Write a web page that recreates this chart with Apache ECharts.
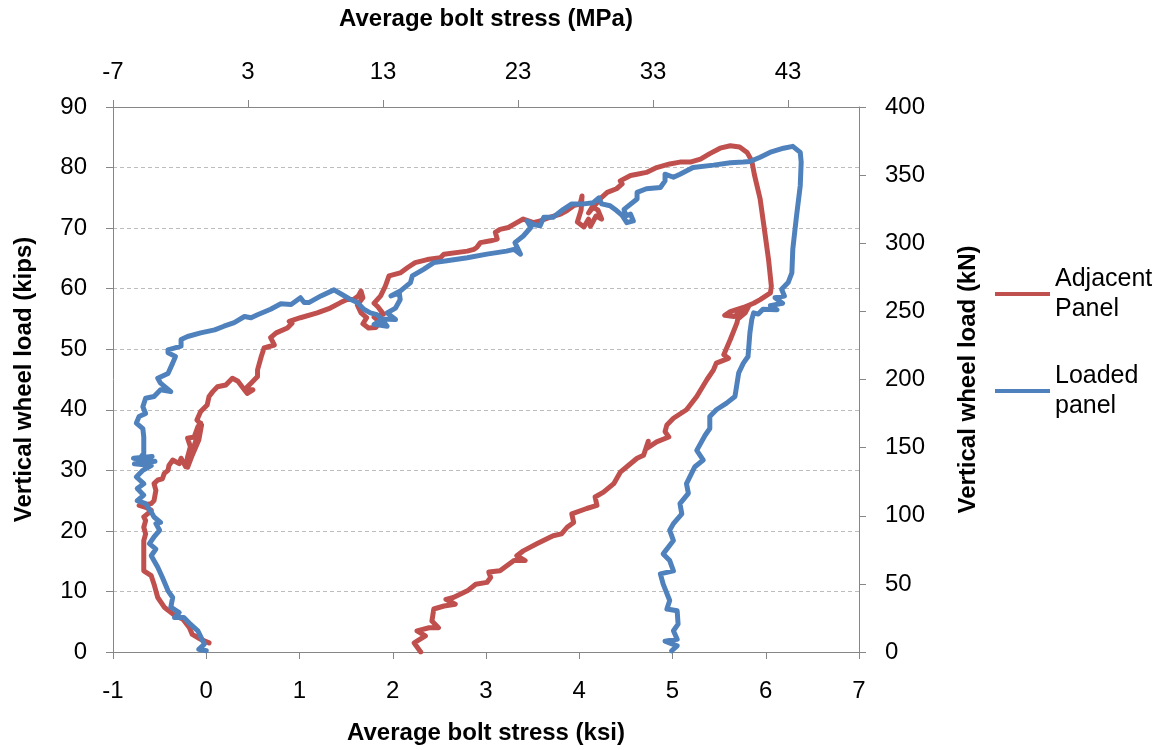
<!DOCTYPE html>
<html>
<head>
<meta charset="utf-8">
<script src="https://cdn.jsdelivr.net/npm/echarts/dist/echarts.min.js"></script>
<style>
  html, body { margin: 0; padding: 0; background: #fff; }
  #chart { width: 1166px; height: 750px; }
</style>
</head>
<body>
<div id="chart"></div>
<script>
// bolt stress (ksi) vs vertical wheel load (kips)
var seriesNames = ['Adjacent Panel', 'Loaded panel'];

var adjacentPanel = [
  [0.03,1.5],[-0.06,2.1],[-0.15,2.9],[-0.18,4.0],[-0.25,5.4],[-0.33,6.0],[-0.36,6.3],[-0.45,7.4],
  [-0.52,9.0],[-0.56,11.2],[-0.59,12.6],[-0.67,13.4],[-0.67,16.7],[-0.67,18.4],[-0.65,19.5],
  [-0.67,20.6],[-0.65,21.7],[-0.67,22.3],[-0.63,22.8],[-0.59,23.4],[-0.65,23.9],[-0.72,24.2],
  [-0.59,24.5],[-0.56,25.0],[-0.54,26.7],[-0.56,27.8],[-0.52,28.4],[-0.47,28.6],[-0.45,29.5],
  [-0.41,30.0],[-0.40,30.8],[-0.36,31.7],[-0.29,31.1],[-0.27,32.0],[-0.22,30.6],[-0.20,32.2],
  [-0.17,33.9],[-0.20,35.3],[-0.13,35.5],[-0.09,37.2],[-0.06,37.8],[-0.12,34.5],[-0.20,30.5],
  [-0.15,32.5],[-0.08,35.0],[-0.05,37.5],[-0.10,38.3],[-0.06,39.7],[0.01,40.8],[0.03,42.2],
  [0.07,43.0],[0.12,43.8],[0.21,44.1],[0.28,45.2],[0.34,44.7],[0.37,44.1],[0.44,42.7],[0.50,43.3],
  [0.41,43.3],[0.48,44.4],[0.55,45.5],[0.55,46.6],[0.59,48.8],[0.62,50.2],[0.73,50.7],[0.69,51.9],
  [0.75,52.7],[0.87,53.5],[0.92,54.3],[0.89,54.6],[1.01,55.2],[1.19,56.0],[1.33,56.8],[1.44,57.7],
  [1.51,58.2],[1.58,58.2],[1.63,58.8],[1.66,59.6],[1.68,58.5],[1.62,57.3],[1.66,56.0],[1.72,55.2],
  [1.68,54.2],[1.74,53.5],[1.82,53.6],[1.86,54.5],[1.80,55.3],[1.90,55.8],[1.84,57.0],[1.80,57.6],
  [1.87,58.8],[1.92,60.4],[1.96,62.1],[2.08,62.6],[2.16,63.5],[2.24,64.3],[2.37,64.8],[2.51,65.1],
  [2.55,65.7],[2.80,66.2],[2.87,66.5],[2.90,66.8],[2.94,67.6],[3.05,67.9],[3.12,68.2],[3.10,69.3],
  [3.15,69.8],[3.24,70.1],[3.33,70.9],[3.40,71.5],[3.51,70.9],[3.58,71.2],[3.69,71.8],[3.80,72.3],
  [3.87,72.9],[3.94,73.7],[4.01,74.0],[4.03,75.3],[4.02,73.0],[3.98,71.0],[4.05,70.2],[4.10,71.5],
  [4.12,70.3],[4.18,72.0],[4.24,71.5],[4.20,73.0],[4.14,73.5],[4.10,72.5],[4.18,74.0],[4.22,74.8],
  [4.30,75.9],[4.40,76.5],[4.46,77.3],[4.44,77.8],[4.55,78.7],[4.62,78.9],[4.72,79.2],[4.83,80.0],
  [4.97,80.6],[5.08,80.9],[5.19,80.9],[5.30,81.4],[5.40,82.3],[5.51,83.2],[5.62,83.6],[5.72,83.4],
  [5.80,82.5],[5.85,81.1],[5.88,78.7],[5.94,74.8],[5.99,69.3],[6.03,64.8],[6.06,60.4],[6.05,59.3],
  [5.94,58.2],[5.87,57.6],[5.76,56.9],[5.62,56.2],[5.56,55.6],[5.66,55.4],[5.74,56.2],[5.82,57.2],
  [5.78,56.0],[5.70,55.0],[5.69,54.3],[5.62,51.6],[5.55,49.1],[5.60,48.5],[5.47,47.7],[5.44,46.6],
  [5.37,45.0],[5.26,42.2],[5.15,40.0],[5.01,38.6],[4.94,37.5],[4.92,36.4],[4.96,35.5],[4.83,34.7],
  [4.72,33.6],[4.74,34.8],[4.69,32.5],[4.62,32.0],[4.51,30.6],[4.44,29.7],[4.37,27.8],[4.26,26.4],
  [4.17,25.6],[4.19,24.2],[4.08,23.7],[3.92,22.8],[3.94,21.4],[3.87,20.6],[3.81,19.5],[3.72,19.2],
  [3.55,17.9],[3.40,16.7],[3.33,15.9],[3.42,15.1],[3.30,15.1],[3.15,13.4],[3.03,13.2],[3.05,12.3],
  [3.01,11.5],[2.89,11.2],[2.80,10.1],[2.65,9.0],[2.57,8.7],[2.67,7.9],[2.55,7.6],[2.44,7.1],
  [2.42,5.1],[2.49,4.0],[2.39,4.0],[2.26,3.5],[2.35,2.65],[2.23,1.5],[2.30,0]
];

var loadedPanel = [
  [0.00,0.2],[-0.08,0.45],[-0.02,1.3],[-0.09,3.5],[-0.17,4.6],[-0.24,5.7],[-0.34,5.7],[-0.29,6.5],
  [-0.38,7.4],[-0.36,9.0],[-0.41,10.1],[-0.47,12.3],[-0.52,14.0],[-0.59,15.9],[-0.54,17.0],
  [-0.61,17.9],[-0.56,19.0],[-0.50,20.1],[-0.54,21.2],[-0.49,21.4],[-0.56,22.3],[-0.59,23.1],
  [-0.65,24.5],[-0.74,25.0],[-0.67,25.9],[-0.74,27.0],[-0.67,27.8],[-0.75,28.9],[-0.68,30.0],
  [-0.59,30.8],[-0.77,31.1],[-0.55,31.5],[-0.78,32.0],[-0.58,32.3],[-0.72,31.8],[-0.67,32.8],
  [-0.67,35.5],[-0.68,36.9],[-0.75,37.8],[-0.72,38.9],[-0.65,39.4],[-0.68,40.5],[-0.65,41.9],
  [-0.56,42.2],[-0.49,43.3],[-0.38,43.0],[-0.49,44.4],[-0.52,45.2],[-0.54,45.5],[-0.41,46.0],
  [-0.36,47.7],[-0.33,48.8],[-0.41,49.4],[-0.41,49.9],[-0.27,50.5],[-0.27,51.6],[-0.20,52.1],
  [-0.06,52.7],[0.09,53.2],[0.19,53.8],[0.30,54.4],[0.41,55.4],[0.48,55.2],[0.55,55.7],[0.69,56.6],
  [0.80,57.5],[0.91,57.4],[1.01,58.5],[1.05,57.7],[1.10,57.7],[1.23,58.8],[1.37,59.8],[1.46,59.0],
  [1.55,58.2],[1.62,57.7],[1.69,56.6],[1.76,56.0],[1.83,55.7],[1.89,54.9],[1.80,54.1],[1.94,53.8],
  [1.88,55.0],[2.03,54.9],[1.94,56.0],[2.03,56.8],[2.08,58.2],[2.07,59.3],[1.98,58.8],[2.08,59.6],
  [2.19,61.0],[2.21,62.1],[2.33,63.2],[2.44,64.3],[2.58,64.6],[2.80,65.1],[3.01,65.7],[3.22,66.2],
  [3.30,66.5],[3.37,65.7],[3.31,67.6],[3.40,68.7],[3.48,70.1],[3.44,71.2],[3.51,70.6],[3.58,70.4],
  [3.62,71.8],[3.72,71.8],[3.83,73.1],[3.92,74.0],[4.05,74.0],[4.15,74.2],[4.21,75.0],[4.24,74.0],
  [4.33,73.7],[4.40,72.9],[4.46,72.1],[4.51,70.9],[4.58,71.2],[4.55,72.3],[4.50,72.0],[4.48,73.1],
  [4.62,74.8],[4.62,75.9],[4.72,76.5],[4.87,76.7],[4.92,77.8],[4.92,78.9],[5.01,78.4],[5.08,78.9],
  [5.22,80.0],[5.44,80.4],[5.62,80.8],[5.76,80.9],[5.83,81.0],[5.94,81.7],[6.06,82.6],[6.19,83.2],
  [6.29,83.5],[6.37,82.5],[6.38,80.9],[6.37,77.0],[6.33,72.0],[6.29,66.5],[6.28,62.6],[6.24,61.0],
  [6.17,59.9],[6.20,58.8],[6.10,58.5],[6.18,57.6],[6.05,57.2],[6.12,56.5],[5.97,56.6],[5.92,55.8],
  [5.87,56.0],[5.85,54.9],[5.83,52.7],[5.81,48.8],[5.76,47.7],[5.71,46.1],[5.67,42.2],[5.58,41.1],
  [5.47,40.0],[5.40,38.9],[5.40,36.9],[5.35,35.8],[5.26,33.3],[5.33,31.7],[5.24,30.6],[5.15,27.8],
  [5.17,26.2],[5.08,24.5],[5.10,22.8],[5.01,21.2],[4.97,20.1],[5.01,18.4],[4.90,16.2],[4.97,15.1],
  [5.01,13.4],[4.87,12.9],[4.90,11.2],[4.97,8.5],[4.94,7.1],[5.05,6.8],[5.06,4.6],[5.01,3.5],
  [5.05,2.1],[4.92,1.8],[5.05,1.0],[4.99,0.2]
];

// axis ranges: ksi / MPa on x, kips / kN on y
var ksiRange = [-1, 7];
var mpaRange = [-7, 48.26];
var kipsRange = [0, 90];
var knRange = [0, 400];

var font = '"Liberation Sans", Arial, sans-serif';
var axisGrey = '#868686';

function valueAxis(extra) {
  var base = {
    type: 'value',
    nameLocation: 'middle',
    nameTextStyle: { fontFamily: font, fontSize: 24, fontWeight: 'bold', color: '#000' },
    axisLine: { show: true, onZero: false, lineStyle: { color: axisGrey, width: 1 } },
    axisTick: { show: true, length: 7, lineStyle: { color: axisGrey } },
    axisLabel: { fontFamily: font, fontSize: 24, color: '#000' },
    splitLine: { show: false }
  };
  for (var k in extra) base[k] = extra[k];
  return base;
}

var chart = echarts.init(document.getElementById('chart'));
chart.setOption({
  animation: false,
  backgroundColor: '#fff',
  grid: { left: 113, right: 307, top: 107, bottom: 97, containLabel: false },
  legend: {
    orient: 'vertical',
    left: 995,
    top: 249,
    padding: 0,
    icon: 'rect',
    itemWidth: 55,
    itemHeight: 4,
    itemGap: 7,
    data: seriesNames,
    formatter: function (name) { return name.replace(' ', '\n'); },
    textStyle: { fontFamily: font, fontSize: 25, lineHeight: 30, color: '#000', padding: [30, 0, 0, 0] }
  },
  xAxis: [
    valueAxis({
      position: 'bottom', min: ksiRange[0], max: ksiRange[1], interval: 1,
      name: 'Average bolt stress (ksi)', nameGap: 69,
      axisLabel: { fontFamily: font, fontSize: 24, color: '#000', margin: 27 }
    }),
    valueAxis({
      position: 'top', min: mpaRange[0], max: mpaRange[1], interval: 10,
      name: 'Average bolt stress (MPa)', nameGap: 76,
      axisLabel: { fontFamily: font, fontSize: 24, color: '#000', margin: 23, showMaxLabel: false }
    })
  ],
  yAxis: [
    valueAxis({
      position: 'left', min: kipsRange[0], max: kipsRange[1], interval: 10,
      name: 'Vertical wheel load (kips)', nameGap: 77,
      axisLabel: { fontFamily: font, fontSize: 24, color: '#000', margin: 26 },
      splitLine: { show: true, lineStyle: { color: '#bdbdbd', type: [4, 3], width: 1 } }
    }),
    valueAxis({
      position: 'right', min: knRange[0], max: knRange[1], interval: 50,
      name: 'Vertical wheel load (kN)', nameGap: 97,
      axisLabel: { fontFamily: font, fontSize: 24, color: '#000', margin: 26 }
    })
  ],
  series: [
    {
      name: seriesNames[0], type: 'line', data: adjacentPanel,
      xAxisIndex: 0, yAxisIndex: 0, showSymbol: false, clip: true,
      itemStyle: { color: '#C0504D' },
      lineStyle: { color: '#C0504D', width: 5, cap: 'round', join: 'round' }
    },
    {
      name: seriesNames[1], type: 'line', data: loadedPanel,
      xAxisIndex: 0, yAxisIndex: 0, showSymbol: false, clip: true,
      itemStyle: { color: '#4F81BD' },
      lineStyle: { color: '#4F81BD', width: 5, cap: 'round', join: 'round' }
    }
  ]
});
</script>
</body>
</html>
